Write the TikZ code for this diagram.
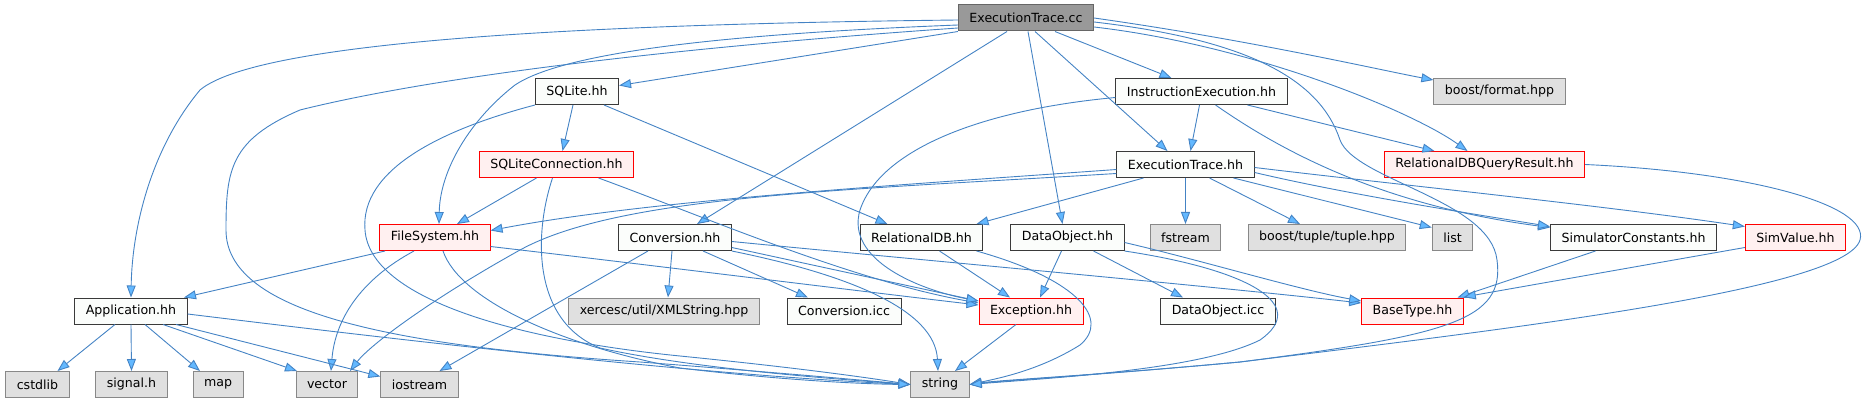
\documentclass[tikz,border=0pt]{standalone}
\usepackage{fontspec}
\setmainfont{DejaVu Sans}
\usetikzlibrary{arrows.meta}
\definecolor{edgeblue}{HTML}{4483C4}
\definecolor{tipblue}{HTML}{63B8FF}
\definecolor{rootfill}{HTML}{999999}
\definecolor{rootline}{HTML}{666666}
\definecolor{hdrfill}{HTML}{FBFDFB}
\definecolor{hdrline}{HTML}{3A3A3A}
\definecolor{truncfill}{HTML}{FFF0F0}
\definecolor{truncline}{HTML}{FF0000}
\definecolor{sysfill}{HTML}{E0E0E0}
\definecolor{sysline}{HTML}{888888}

\begin{document}
\begin{tikzpicture}[x=1pt,y=-1pt,
    box/.style={draw, line width=1pt, minimum height=26pt, inner xsep=11pt,
                inner ysep=2pt, font=\fontsize{12.6}{15}\selectfont},
    root/.style={box, fill=rootfill, draw=rootline},
    hdr/.style={box, fill=hdrfill, draw=hdrline},
    trunc/.style={box, fill=truncfill, draw=truncline},
    sys/.style={box, fill=sysfill, draw=sysline},
    dep/.style={edgeblue, line width=0.9pt,
                -{Triangle[length=12pt,width=9pt,fill=tipblue]}}]
  \useasboundingbox (0,0) rectangle (1870,403);

  % rows of the include graph
  \node[root]  (etcc)     at (1026,18)    {ExecutionTrace.cc};
  \node[hdr]   (sqlite)   at (577,91.5)   {SQLite.hh};
  \node[hdr]   (instr)    at (1201.5,91.5){InstructionExecution.hh};
  \node[sys]   (bfmt)     at (1499.5,91.5){boost/format.hpp};
  \node[trunc] (sqlconn)  at (556.5,164.5){SQLiteConnection.hh};
  \node[hdr]   (eth)      at (1185.5,164.5){ExecutionTrace.hh};
  \node[trunc] (rdbqr)    at (1484.5,164.5){RelationalDBQueryResult.hh};
  \node[trunc] (fs)       at (435,237.5)  {FileSystem.hh};
  \node[hdr]   (conv)     at (675,237.5)  {Conversion.hh};
  \node[hdr]   (rdb)      at (921.5,237.5){RelationalDB.hh};
  \node[hdr]   (dobj)     at (1067.5,237.5){DataObject.hh};
  \node[sys]   (fstream)  at (1185.5,237.5){fstream};
  \node[sys]   (tuple)    at (1327,237.5) {boost/tuple/tuple.hpp};
  \node[sys]   (list)     at (1452.5,237.5){list};
  \node[hdr]   (simconst) at (1633.5,237.5){SimulatorConstants.hh};
  \node[trunc] (simval)   at (1795.5,237.5){SimValue.hh};
  \node[hdr]   (app)      at (131,311)    {Application.hh};
  \node[sys]   (xml)      at (664,311)    {xercesc/util/XMLString.hpp};
  \node[hdr]   (convicc)  at (844,311)    {Conversion.icc};
  \node[trunc] (exc)      at (1031,311)   {Exception.hh};
  \node[hdr]   (dicc)     at (1218,311)   {DataObject.icc};
  \node[trunc] (btype)    at (1412.5,311) {BaseType.hh};
  \node[sys]   (cstdlib)  at (37.5,384.5) {cstdlib};
  \node[sys]   (signal)   at (131.5,384.5){signal.h};
  \node[sys]   (map)      at (218,384.5)  {map};
  \node[sys]   (vector)   at (327,384.5)  {vector};
  \node[sys]   (iostream) at (419.5,384.5){iostream};
  \node[sys]   (string)   at (940,384.5)  {string};

  % ExecutionTrace.cc
  \draw[dep] ([yshift=-2pt]etcc.west) .. controls (600,24) and (260,40) .. (200,90)
             .. controls (150,150) and (132,230) .. (app.north);
  \draw[dep] ([yshift=-10pt]etcc.west) .. controls (640,50) and (420,80) .. (300,110)
             .. controls (230,140) and (226,170) .. (226,230)
             .. controls (226,310) and (380,345) .. (640,362)
             .. controls (770,372) and (860,380) .. (string.west);
  \draw[dep] ([yshift=-7pt]etcc.west) .. controls (700,35) and (560,55) .. (515,85)
             .. controls (470,120) and (440,170) .. ([xshift=4pt]fs.north);
  \draw[dep] (etcc.south west) -- ([yshift=6pt]sqlite.east);
  \draw[dep] ([xshift=-19pt]etcc.south) -- ([xshift=22pt]conv.north);
  \draw[dep] ([xshift=2pt]etcc.south) -- ([xshift=-5pt]dobj.north);
  \draw[dep] ([xshift=9pt]etcc.south) -- ([xshift=-18pt]eth.north);
  \draw[dep] ([xshift=29pt]etcc.south) -- ([xshift=-30pt]instr.north);
  \draw[dep] (etcc.east) .. controls (1250,40) and (1380,70) .. ([yshift=-2pt]bfmt.north west);
  \draw[dep] ([yshift=-9pt]etcc.east) .. controls (1250,45) and (1410,110) .. ([xshift=-17pt]rdbqr.north);
  \draw[dep] ([yshift=-4pt]etcc.east) .. controls (1250,40) and (1320,80) .. (1340,140)
             .. controls (1355,180) and (1490,200) .. (1497,260)
             .. controls (1505,320) and (1450,335) .. (1240,362)
             .. controls (1100,375) and (1000,380) .. (string.east);

  % SQLite.hh, SQLiteConnection.hh
  \draw[dep] ([xshift=-4pt]sqlite.south) -- ([xshift=6pt]sqlconn.north);
  \draw[dep] ([xshift=27pt]sqlite.south) -- ([xshift=-34pt]rdb.north);
  \draw[dep] (sqlite.south west) .. controls (440,130) and (360,170) .. (365,230)
             .. controls (370,300) and (520,340) .. (680,356)
             .. controls (800,368) and (870,378) .. (string.west);
  \draw[dep] ([xshift=-20pt]sqlconn.south) -- ([xshift=22pt]fs.north);
  \draw[dep] ([xshift=-4pt]sqlconn.south) .. controls (535,230) and (530,320) .. (600,348)
             .. controls (700,370) and (850,380) .. (string.west);
  \draw[dep] ([xshift=42pt]sqlconn.south) .. controls (700,215) and (850,280) .. ([yshift=8pt]exc.west);

  % InstructionExecution.hh
  \draw[dep] ([xshift=-2pt]instr.south) -- ([xshift=5pt]eth.north);
  \draw[dep] ([yshift=-6pt]instr.west) .. controls (980,110) and (880,150) .. (860,210)
             .. controls (845,260) and (920,290) .. ([yshift=10pt]exc.west);
  \draw[dep] ([xshift=46pt]instr.south) -- ([xshift=-50pt]rdbqr.north);
  \draw[dep] ([xshift=14pt]instr.south) .. controls (1280,150) and (1380,205) .. ([yshift=10pt]simconst.west);

  % ExecutionTrace.hh
  \draw[dep] ([yshift=-5pt]eth.west) .. controls (900,185) and (650,200) .. ([yshift=7pt]fs.east);
  \draw[dep] ([yshift=-9pt]eth.west) .. controls (850,190) and (620,195) .. (520,250)
             .. controls (430,300) and (370,345) .. ([xshift=23pt]vector.north);
  \draw[dep] ([xshift=-42pt]eth.south) -- ([xshift=55pt]rdb.north);
  \draw[dep] (eth.south) -- (fstream.north);
  \draw[dep] ([xshift=24pt]eth.south) -- ([xshift=-27pt]tuple.north);
  \draw[dep] ([xshift=48pt]eth.south) -- ([yshift=10pt]list.west);
  \draw[dep] ([yshift=-8pt]eth.east) .. controls (1350,195) and (1480,215) .. ([yshift=11pt]simconst.west);
  \draw[dep] ([yshift=-3pt]eth.east) .. controls (1400,185) and (1600,205) .. ([yshift=11pt]simval.west);

  % RelationalDBQueryResult.hh
  \draw[dep] (rdbqr.east) .. controls (1750,172) and (1870,205) .. (1860,240)
             .. controls (1845,290) and (1500,330) .. (1240,362)
             .. controls (1100,375) and (1010,380) .. (string.east);

  % FileSystem.hh
  \draw[dep] ([xshift=-50pt]fs.south) -- ([xshift=53pt]app.north);
  \draw[dep] ([xshift=-21pt]fs.south) .. controls (360,280) and (335,320) .. ([xshift=4pt]vector.north);
  \draw[dep] ([xshift=8pt]fs.south) .. controls (460,300) and (560,345) .. (680,368)
             .. controls (780,380) and (860,384) .. (string.west);
  \draw[dep] ([yshift=-9pt]fs.east) .. controls (650,265) and (850,290) .. ([yshift=6pt]exc.west);

  % Conversion.hh
  \draw[dep] ([xshift=-3pt]conv.south) -- ([xshift=4pt]xml.north);
  \draw[dep] ([xshift=28pt]conv.south) -- ([xshift=-36pt]convicc.north);
  \draw[dep] ([yshift=-10pt]conv.east) -- ([yshift=10pt]exc.west);
  \draw[dep] ([yshift=-4pt]conv.east) .. controls (900,258) and (1200,285) .. ([yshift=8pt]btype.west);
  \draw[dep] (conv.south east) .. controls (850,275) and (935,310) .. ([xshift=-2pt]string.north);
  \draw[dep] ([xshift=-27pt]conv.south) -- ([xshift=20pt]iostream.north);

  % RelationalDB.hh, DataObject.hh
  \draw[dep] ([xshift=18pt]rdb.south) -- ([xshift=-21pt]exc.north);
  \draw[dep] ([xshift=55pt]rdb.south) .. controls (1080,280) and (1110,320) .. (1080,345)
             .. controls (1040,370) and (1000,378) .. (string.east);
  \draw[dep] ([xshift=-6pt]dobj.south) -- ([xshift=9pt]exc.north);
  \draw[dep] ([xshift=26pt]dobj.south) -- ([xshift=-35pt]dicc.north);
  \draw[dep] (dobj.south east) .. controls (1250,270) and (1310,305) .. (1260,340)
             .. controls (1200,370) and (1050,378) .. (string.east);
  \draw[dep] ([yshift=-5pt]dobj.east) .. controls (1200,260) and (1300,290) .. ([yshift=10pt]btype.west);

  % Exception.hh, SimulatorConstants.hh, SimValue.hh
  \draw[dep] ([xshift=-15pt]exc.south) -- ([xshift=15pt]string.north);
  \draw[dep] ([xshift=-38pt]simconst.south) -- ([xshift=45pt]btype.north);
  \draw[dep] ([yshift=-10pt]simval.west) -- ([yshift=14pt]btype.east);

  % Application.hh
  \draw[dep] ([xshift=-16pt]app.south) -- ([xshift=20pt]cstdlib.north);
  \draw[dep] (app.south) -- (signal.north);
  \draw[dep] ([xshift=14pt]app.south) -- ([xshift=-18pt]map.north);
  \draw[dep] ([xshift=32pt]app.south) -- ([xshift=-30pt]vector.north);
  \draw[dep] ([xshift=45pt]app.south) -- ([yshift=8pt]iostream.west);
  \draw[dep] ([yshift=-3pt]app.east) .. controls (400,340) and (700,375) .. (string.west);
\end{tikzpicture}
\end{document}
